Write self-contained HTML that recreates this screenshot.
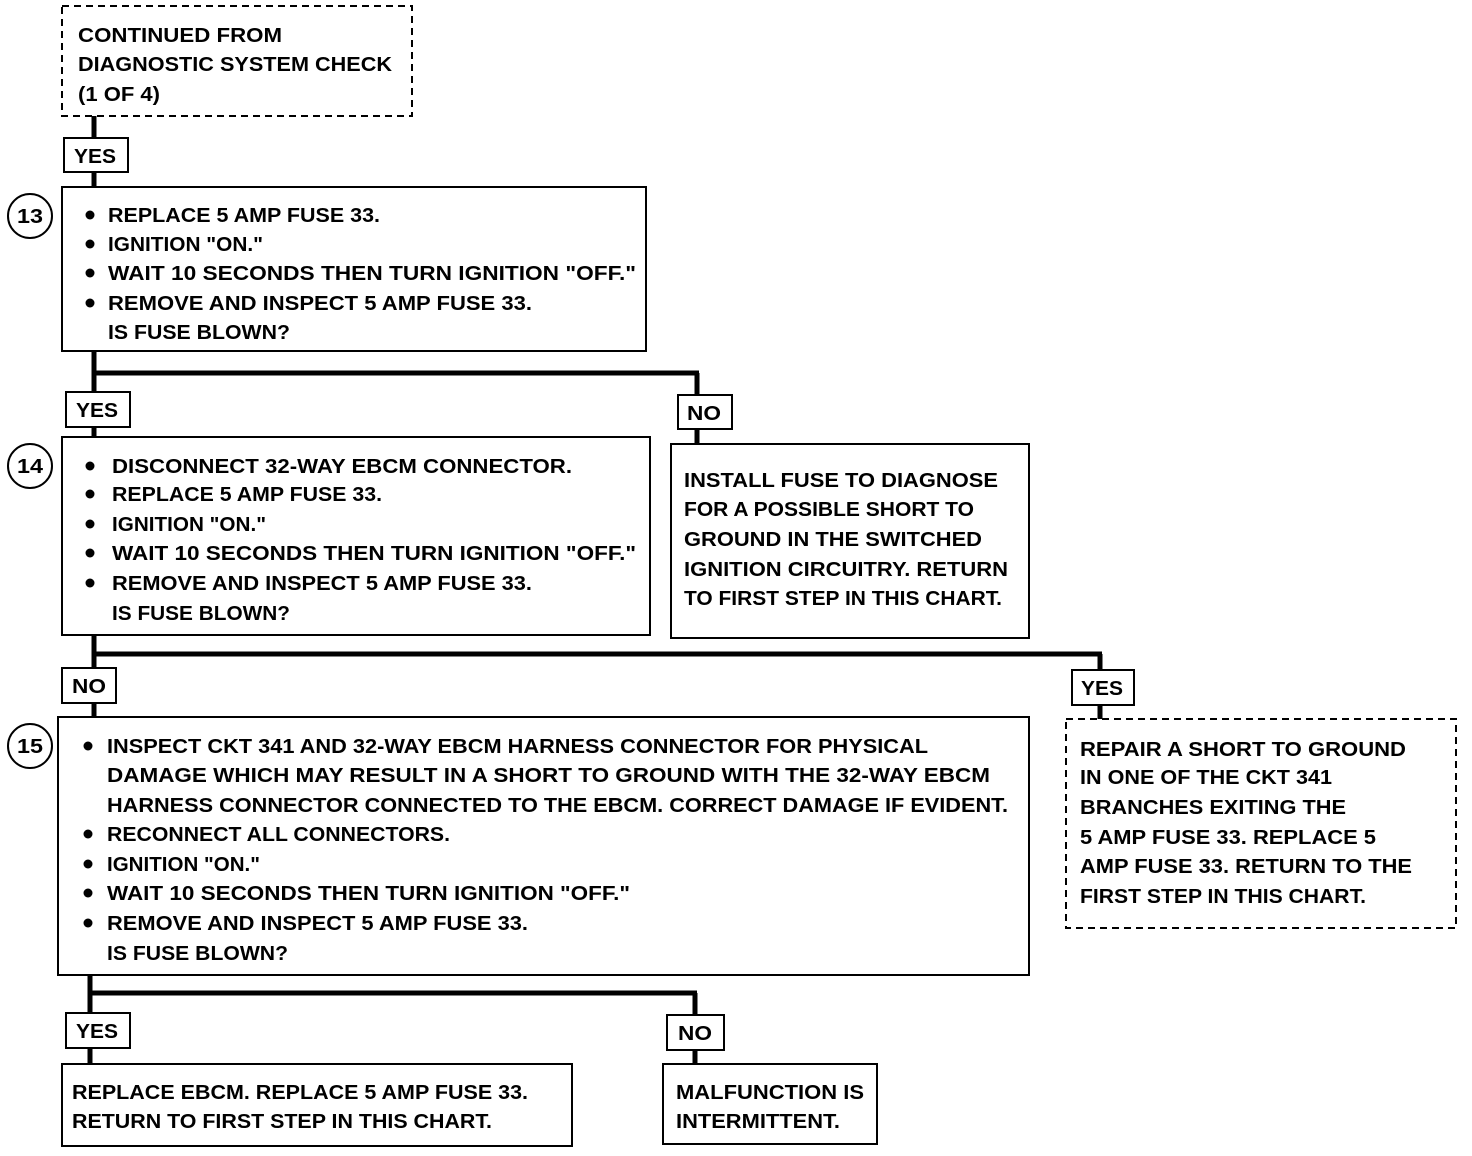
<!DOCTYPE html>
<html><head><meta charset="utf-8"><style>
html,body{margin:0;padding:0;background:#fff;}
svg{display:block;}
text{font-family:"Liberation Sans",sans-serif;font-weight:bold;font-size:20px;fill:#000;}
</style></head><body>
<svg width="1472" height="1156" viewBox="0 0 1472 1156" xmlns="http://www.w3.org/2000/svg">
<g fill="none" stroke="#000">
<!-- connectors -->
<g stroke-width="5">
<line x1="94" y1="116" x2="94" y2="187"/>
<line x1="94" y1="351" x2="94" y2="437"/>
<line x1="92" y1="373" x2="699" y2="373"/>
<line x1="697" y1="373" x2="697" y2="444"/>
<line x1="94" y1="635" x2="94" y2="717"/>
<line x1="92" y1="654" x2="1102" y2="654"/>
<line x1="1100" y1="654" x2="1100" y2="719"/>
<line x1="90" y1="975" x2="90" y2="1064"/>
<line x1="88" y1="993" x2="697" y2="993"/>
<line x1="695" y1="993" x2="695" y2="1064"/>
</g>
<g stroke-width="2" fill="#fff">
<rect x="62" y="6" width="350" height="110" stroke-dasharray="7,5"/>
<rect x="64" y="138" width="64" height="34"/>
<rect x="62" y="187" width="584" height="164"/>
<rect x="66" y="392" width="64" height="35"/>
<rect x="678" y="395" width="54" height="34"/>
<rect x="62" y="437" width="588" height="198"/>
<rect x="671" y="444" width="358" height="194"/>
<rect x="62" y="668" width="54" height="35"/>
<rect x="1072" y="670" width="62" height="35"/>
<rect x="58" y="717" width="971" height="258"/>
<rect x="1066" y="719" width="390" height="209" stroke-dasharray="7,5"/>
<rect x="66" y="1013" width="64" height="35"/>
<rect x="667" y="1015" width="57" height="35"/>
<rect x="62" y="1064" width="510" height="82"/>
<rect x="663" y="1064" width="214" height="80"/>
<circle cx="30" cy="216" r="22"/>
<circle cx="30" cy="466" r="22"/>
<circle cx="30" cy="746" r="22"/>
</g>
</g>
<g fill="#000">
<circle cx="90" cy="215" r="4.5"/><circle cx="90" cy="244" r="4.5"/><circle cx="90" cy="273" r="4.5"/><circle cx="90" cy="303" r="4.5"/>
<circle cx="90" cy="466" r="4.5"/><circle cx="90" cy="494" r="4.5"/><circle cx="90" cy="524" r="4.5"/><circle cx="90" cy="553" r="4.5"/><circle cx="90" cy="583" r="4.5"/>
<circle cx="88" cy="746" r="4.5"/><circle cx="88" cy="834" r="4.5"/><circle cx="88" cy="864" r="4.5"/><circle cx="88" cy="893" r="4.5"/><circle cx="88" cy="923" r="4.5"/>
</g>
<g lengthAdjust="spacingAndGlyphs">
<text x="17" y="223" textLength="26" lengthAdjust="spacingAndGlyphs">13</text>
<text x="17" y="473" textLength="26" lengthAdjust="spacingAndGlyphs">14</text>
<text x="17" y="753" textLength="26" lengthAdjust="spacingAndGlyphs">15</text>

<text x="78" y="42" textLength="204" lengthAdjust="spacingAndGlyphs">CONTINUED FROM</text>
<text x="78" y="71" textLength="314" lengthAdjust="spacingAndGlyphs">DIAGNOSTIC SYSTEM CHECK</text>
<text x="78" y="101" textLength="82" lengthAdjust="spacingAndGlyphs">(1 OF 4)</text>

<text x="74" y="163" textLength="42" lengthAdjust="spacingAndGlyphs">YES</text>
<text x="76" y="417" textLength="42" lengthAdjust="spacingAndGlyphs">YES</text>
<text x="687" y="420" textLength="34" lengthAdjust="spacingAndGlyphs">NO</text>
<text x="72" y="693" textLength="34" lengthAdjust="spacingAndGlyphs">NO</text>
<text x="1081" y="695" textLength="42" lengthAdjust="spacingAndGlyphs">YES</text>
<text x="76" y="1038" textLength="42" lengthAdjust="spacingAndGlyphs">YES</text>
<text x="678" y="1040" textLength="34" lengthAdjust="spacingAndGlyphs">NO</text>

<text x="108" y="222" textLength="272" lengthAdjust="spacingAndGlyphs">REPLACE 5 AMP FUSE 33.</text>
<text x="108" y="251" textLength="155" lengthAdjust="spacingAndGlyphs">IGNITION "ON."</text>
<text x="108" y="280" textLength="528" lengthAdjust="spacingAndGlyphs">WAIT 10 SECONDS THEN TURN IGNITION "OFF."</text>
<text x="108" y="310" textLength="424" lengthAdjust="spacingAndGlyphs">REMOVE AND INSPECT 5 AMP FUSE 33.</text>
<text x="108" y="339" textLength="182" lengthAdjust="spacingAndGlyphs">IS FUSE BLOWN?</text>

<text x="112" y="473" textLength="460" lengthAdjust="spacingAndGlyphs">DISCONNECT 32-WAY EBCM CONNECTOR.</text>
<text x="112" y="501" textLength="270" lengthAdjust="spacingAndGlyphs">REPLACE 5 AMP FUSE 33.</text>
<text x="112" y="531" textLength="154" lengthAdjust="spacingAndGlyphs">IGNITION "ON."</text>
<text x="112" y="560" textLength="524" lengthAdjust="spacingAndGlyphs">WAIT 10 SECONDS THEN TURN IGNITION "OFF."</text>
<text x="112" y="590" textLength="420" lengthAdjust="spacingAndGlyphs">REMOVE AND INSPECT 5 AMP FUSE 33.</text>
<text x="112" y="620" textLength="178" lengthAdjust="spacingAndGlyphs">IS FUSE BLOWN?</text>

<text x="684" y="487" textLength="314" lengthAdjust="spacingAndGlyphs">INSTALL FUSE TO DIAGNOSE</text>
<text x="684" y="516" textLength="290" lengthAdjust="spacingAndGlyphs">FOR A POSSIBLE SHORT TO</text>
<text x="684" y="546" textLength="298" lengthAdjust="spacingAndGlyphs">GROUND IN THE SWITCHED</text>
<text x="684" y="576" textLength="324" lengthAdjust="spacingAndGlyphs">IGNITION CIRCUITRY.  RETURN</text>
<text x="684" y="605" textLength="318" lengthAdjust="spacingAndGlyphs">TO FIRST STEP IN THIS CHART.</text>

<text x="107" y="753" textLength="821" lengthAdjust="spacingAndGlyphs">INSPECT CKT 341 AND 32-WAY EBCM HARNESS CONNECTOR FOR PHYSICAL</text>
<text x="107" y="782" textLength="883" lengthAdjust="spacingAndGlyphs">DAMAGE WHICH MAY RESULT IN A SHORT TO GROUND WITH THE 32-WAY EBCM</text>
<text x="107" y="812" textLength="901" lengthAdjust="spacingAndGlyphs">HARNESS CONNECTOR CONNECTED TO THE EBCM.  CORRECT DAMAGE IF EVIDENT.</text>
<text x="107" y="841" textLength="343" lengthAdjust="spacingAndGlyphs">RECONNECT ALL CONNECTORS.</text>
<text x="107" y="871" textLength="153" lengthAdjust="spacingAndGlyphs">IGNITION "ON."</text>
<text x="107" y="900" textLength="523" lengthAdjust="spacingAndGlyphs">WAIT 10 SECONDS THEN TURN IGNITION "OFF."</text>
<text x="107" y="930" textLength="421" lengthAdjust="spacingAndGlyphs">REMOVE AND INSPECT 5 AMP FUSE 33.</text>
<text x="107" y="960" textLength="181" lengthAdjust="spacingAndGlyphs">IS FUSE BLOWN?</text>

<text x="1080" y="756" textLength="326" lengthAdjust="spacingAndGlyphs">REPAIR A SHORT TO GROUND</text>
<text x="1080" y="784" textLength="252" lengthAdjust="spacingAndGlyphs">IN ONE OF THE CKT 341</text>
<text x="1080" y="814" textLength="266" lengthAdjust="spacingAndGlyphs">BRANCHES EXITING THE</text>
<text x="1080" y="844" textLength="296" lengthAdjust="spacingAndGlyphs">5 AMP FUSE 33.  REPLACE 5</text>
<text x="1080" y="873" textLength="332" lengthAdjust="spacingAndGlyphs">AMP FUSE 33.  RETURN TO THE</text>
<text x="1080" y="903" textLength="286" lengthAdjust="spacingAndGlyphs">FIRST STEP IN THIS CHART.</text>

<text x="72" y="1099" textLength="456" lengthAdjust="spacingAndGlyphs">REPLACE EBCM.  REPLACE 5 AMP FUSE 33.</text>
<text x="72" y="1128" textLength="420" lengthAdjust="spacingAndGlyphs">RETURN TO FIRST STEP IN THIS CHART.</text>
<text x="676" y="1099" textLength="188" lengthAdjust="spacingAndGlyphs">MALFUNCTION IS</text>
<text x="676" y="1128" textLength="164" lengthAdjust="spacingAndGlyphs">INTERMITTENT.</text>
</g>
</svg>
</body></html>
